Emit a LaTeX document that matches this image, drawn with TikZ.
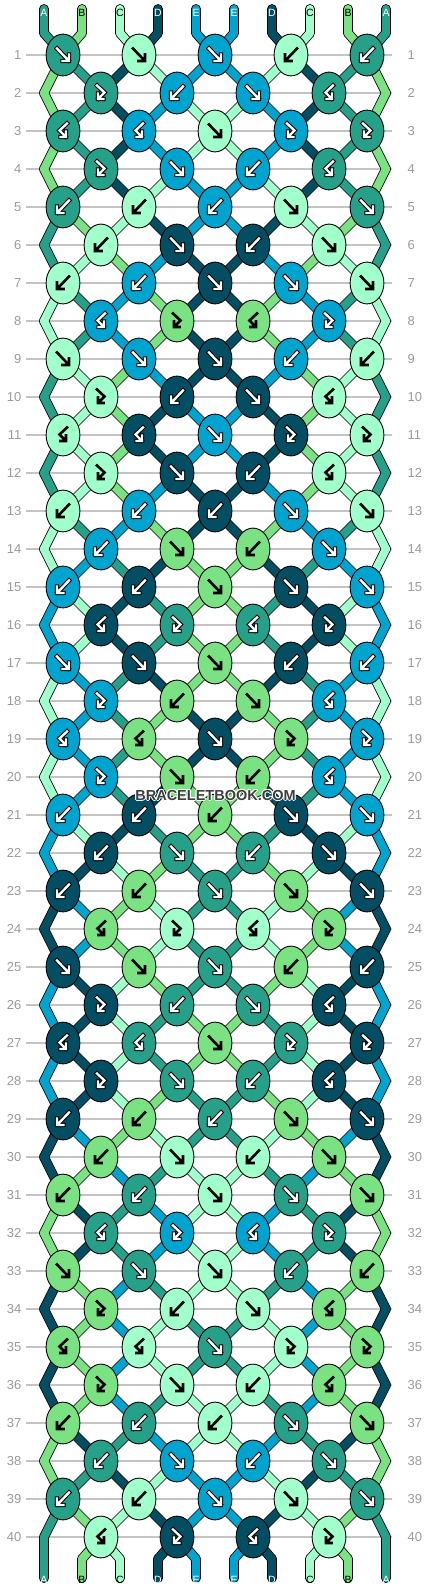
\documentclass[tikz,border=0pt]{standalone}
\usepackage{fontspec}
\setmainfont{Liberation Sans}
\usetikzlibrary{shapes.geometric}
\definecolor{cA}{HTML}{27A08A}
\definecolor{cB}{HTML}{7AE282}
\definecolor{cC}{HTML}{A0FFCA}
\definecolor{cD}{HTML}{034E63}
\definecolor{cE}{HTML}{00A4CF}
\definecolor{lgray}{HTML}{C4C4C4}
\definecolor{tgray}{HTML}{9B9B9B}
\definecolor{wmgray}{HTML}{3E3E3E}
\def\acA{white}\def\acB{black}\def\acC{black}\def\acD{white}\def\acE{white}
\def\wht{white}
\def\tyf{f}\def\tyb{b}\def\tyfb{fb}\def\tybf{bf}
\def\defst#1#2#3#4#5#6{\expandafter\def\csname st#1\endcsname{#2,#3,#4,#5,#6,#6,#5,#4,#3,#2}}
\defst{0}ABCDE
\defst{1}BADCE
\defst{2}BADEC
\defst{3}BADEC
\defst{4}BADCE
\defst{5}ABCDE
\defst{6}ACBED
\defst{7}CAEBD
\defst{8}CAEBD
\defst{9}ACBED
\defst{10}ACBDE
\defst{11}ACBDE
\defst{12}ACBED
\defst{13}CAEBD
\defst{14}CEADB
\defst{15}ECDAB
\defst{16}ECDAB
\defst{17}CEADB
\defst{18}CEABD
\defst{19}CEABD
\defst{20}CEADB
\defst{21}ECDAB
\defst{22}EDCBA
\defst{23}DEBCA
\defst{24}DEBCA
\defst{25}EDCBA
\defst{26}EDCAB
\defst{27}EDCAB
\defst{28}EDCBA
\defst{29}DEBCA
\defst{30}DBEAC
\defst{31}BDAEC
\defst{32}BDAEC
\defst{33}DBEAC
\defst{34}DBECA
\defst{35}DBECA
\defst{36}DBEAC
\defst{37}BDAEC
\defst{38}BADCE
\defst{39}ABCDE
\defst{40}ABCDE
\expandafter\def\csname ty1\endcsname{f,f,f,b,b}
\expandafter\def\csname ty2\endcsname{fb,b,f,bf}
\expandafter\def\csname ty3\endcsname{bf,bf,f,fb,fb}
\expandafter\def\csname ty4\endcsname{fb,f,b,bf}
\expandafter\def\csname ty5\endcsname{b,b,b,f,f}
\expandafter\def\csname ty6\endcsname{b,f,b,f}
\expandafter\def\csname ty7\endcsname{b,b,f,f,f}
\expandafter\def\csname ty8\endcsname{bf,fb,bf,fb}
\newcommand\knotglyph[1]{%
  \ifx\Kt\tyf \draw[#1] (-6,-6.5) -- (5.5,5.5) (-0.5,6) -- (6,6) -- (6,-0.5);\fi
  \ifx\Kt\tyb \draw[#1] (6,-6.5) -- (-5.5,5.5) (0.5,6) -- (-6,6) -- (-6,-0.5);\fi
  \ifx\Kt\tyfb \draw[#1] (-4,-7.5) -- (3.5,-0.5) -- (-2.6,5.6) (-3,0.5) -- (-3,6) -- (2.5,6);\fi
  \ifx\Kt\tybf \draw[#1] (4,-7.5) -- (-3.5,-0.5) -- (2.6,5.6) (3,0.5) -- (3,6) -- (-2.5,6);\fi
}
\tikzset{
  strandout/.style={draw=black, line width=9.8pt, line cap=round, line join=round},
  strandin/.style={line width=8.2pt, line cap=round, line join=round},
  knot/.style={ellipse, draw=black, line width=0.9pt, minimum width=33.8pt, minimum height=41.8pt, inner sep=0pt},
  rowline/.style={draw=lgray, line width=1.2pt},
  rowlab/.style={text=tgray, font=\fontsize{13}{13}\selectfont, inner sep=0pt},
  strlab/.style={font=\fontsize{10.5}{10.5}\selectfont, inner sep=0pt},
  glout/.style={draw=black, line width=4.4pt, line join=miter, line cap=rect},
  glwhite/.style={draw=white, line width=2.4pt, line join=miter, line cap=rect},
  glblack/.style={draw=black, line width=2.6pt, line join=miter, line cap=rect},
  wm/.style={font=\fontsize{14.5}{14.5}\selectfont\bfseries, inner sep=0pt},
}
\begin{document}
\begin{tikzpicture}[x=1pt,y=-1pt]
\useasboundingbox (0,0) rectangle (430,1592);
\fill[white] (0,0) rectangle (430,1592);
% row lines and numbers
\foreach \Rw in {1,...,40}{
  \pgfmathsetmacro\yy{55+38*(\Rw-1)}
  \draw[rowline] (26,\yy) -- (392,\yy);
  \node[rowlab, anchor=east] (ll-\Rw) at (21.5,\yy) {\Rw};
  \node[rowlab, anchor=west] (rl-\Rw) at (407.5,\yy) {\Rw};
}
% coordinates
\foreach \Rw in {0,...,41}{
  \foreach \Ps in {0,...,9}{
    \ifnum\Rw=0 \pgfmathsetmacro\xx{44+38*\Ps}\def\yy{33}%
    \else\ifnum\Rw=41 \pgfmathsetmacro\xx{44+38*\Ps}\def\yy{1559}%
    \else
      \pgfmathsetmacro\yy{55+38*(\Rw-1)}%
      \ifodd\Rw\relax \pgfmathsetmacro\xx{63+76*int(\Ps/2)}%
      \else
        \ifnum\Ps=0 \def\xx{44}\else\ifnum\Ps=9 \def\xx{386}\else
          \pgfmathsetmacro\xx{101+76*int((\Ps-1)/2)}\fi\fi
      \fi
    \fi\fi
    \coordinate (P-\Rw-\Ps) at (\xx,\yy);
  }
}
\foreach \Ps in {0,...,9}{
  \pgfmathsetmacro\xx{44+38*\Ps}
  \coordinate (T-\Ps) at (\xx,9);
  \coordinate (Bt-\Ps) at (\xx,1578);
  \coordinate (TL-\Ps) at (\xx,13);
  \coordinate (BL-\Ps) at (\xx,1580);
  \draw[strandout] (T-\Ps) -- (P-0-\Ps);
  \draw[strandout] (P-41-\Ps) -- (Bt-\Ps);
}
% strand outlines
\foreach \Rw in {0,...,40}{
  \pgfmathtruncatemacro\Rn{\Rw+1}
  \edef\lst{\csname st\Rw\endcsname}
  \foreach \Cl [count=\Ps from 0] in \lst {
    \draw[strandout] (P-\Rw-\Ps) -- (P-\Rn-\Ps);
  }
}
% strand fills
\edef\lst{\csname st0\endcsname}
\foreach \Cl [count=\Ps from 0] in \lst {
  \draw[strandin, draw=c\Cl] (T-\Ps) -- (P-0-\Ps);
  \edef\Ac{\csname ac\Cl\endcsname}
  \node[strlab, text=\Ac] (tl-\Ps) at (TL-\Ps) {\Cl};
}
\edef\lst{\csname st40\endcsname}
\foreach \Cl [count=\Ps from 0] in \lst {
  \draw[strandin, draw=c\Cl] (P-41-\Ps) -- (Bt-\Ps);
  \edef\Ac{\csname ac\Cl\endcsname}
  \node[strlab, text=\Ac] (bl-\Ps) at (BL-\Ps) {\Cl};
}
\foreach \Rw in {0,...,40}{
  \pgfmathtruncatemacro\Rn{\Rw+1}
  \edef\lst{\csname st\Rw\endcsname}
  \foreach \Cl [count=\Ps from 0] in \lst {
    \expandafter\xdef\csname col-\Rw-\Ps\endcsname{\Cl}
    \draw[strandin, draw=c\Cl] (P-\Rw-\Ps) -- (P-\Rn-\Ps);
  }
}
% knots
\foreach \Rw in {1,...,40}{
  \pgfmathtruncatemacro\Rm{\Rw-1}
  \pgfmathtruncatemacro\Tm{mod(\Rw-1,8)+1}
  \edef\tl{\csname ty\Tm\endcsname}
  \foreach \Kt [count=\Ki from 0] in \tl {
    \ifodd\Rw\relax \pgfmathtruncatemacro\Ps{2*\Ki}\else\pgfmathtruncatemacro\Ps{2*\Ki+1}\fi
    \pgfmathtruncatemacro\Pn{\Ps+1}
    \ifx\Kt\tyf \edef\Cl{\csname col-\Rm-\Ps\endcsname}\else
      \ifx\Kt\tyfb \edef\Cl{\csname col-\Rm-\Ps\endcsname}\else
        \edef\Cl{\csname col-\Rm-\Pn\endcsname}\fi\fi
    \node[knot, fill=c\Cl] (n-\Rw-\Ki) at (P-\Rw-\Ps) {};
    \edef\Ac{\csname ac\Cl\endcsname}
    \begin{scope}[shift={(n-\Rw-\Ki.center)}]
      \ifx\Ac\wht \knotglyph{glout}\knotglyph{glwhite}\else\knotglyph{glblack}\fi
    \end{scope}
  }
}
% watermark
\foreach \dx/\dy [count=\wi] in {-1/0,1/0,0/-1,0/1,-0.8/-0.8,0.8/0.8,-0.8/0.8,0.8/-0.8}{
  \node[wm, text=white] (wmh-\wi) at (215.5+\dx,795+\dy) {BRACELETBOOK.COM};
}
\node[wm, text=wmgray] (wm) at (215.5,795) {BRACELETBOOK.COM};
\end{tikzpicture}
\end{document}
